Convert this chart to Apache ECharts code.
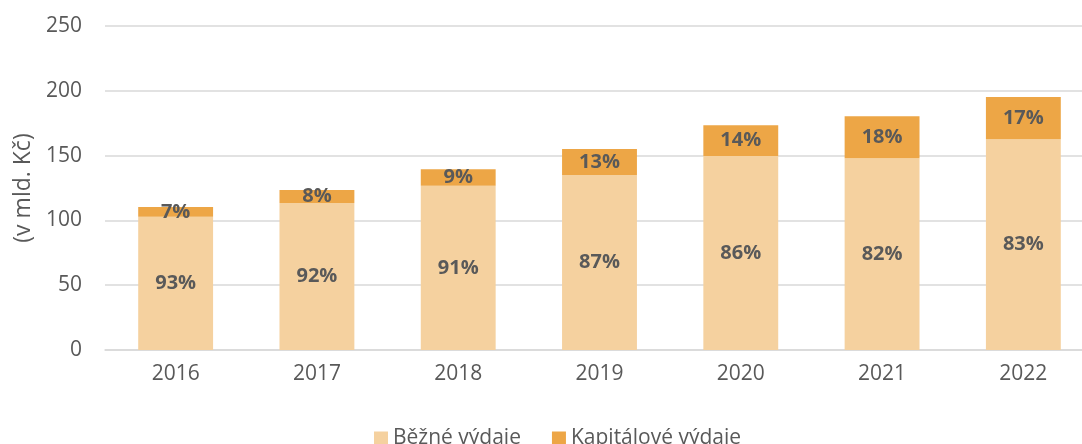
<!DOCTYPE html>
<html><head><meta charset="utf-8">
<script src="https://cdn.jsdelivr.net/npm/echarts@6/dist/echarts.min.js"></script>
<style>html,body{margin:0;padding:0;background:#fff}#c{width:1082px;height:444px}</style>
</head><body><div id="c"></div>
<script>
const categories = ['2016','2017','2018','2019','2020','2021','2022'];
const currentSpending = [102.9, 113.4, 126.8, 135.0, 149.7, 147.9, 162.6];
const capitalSpending = [7.4, 10.1, 12.6, 20.1, 23.7, 32.4, 32.6];
const currentLabels = ['93%','92%','91%','87%','86%','82%','83%'];
const capitalLabels = ['7%','8%','9%','13%','14%','18%','17%'];
const yTicks = [0, 50, 100, 150, 200, 250];

const font = 'Open Sans';
const chart = echarts.init(document.getElementById('c'), null, {renderer:'canvas'});
const labelStyle = (arr) => ({
  show: true, position: 'inside',
  formatter: p => arr[p.dataIndex],
  color: '#595959', fontFamily: font, fontWeight: 'bold', fontSize: 20
});
chart.setOption({
  animation: false,
  grid: {left: 105, right: -12, top: 26, bottom: 94, containLabel: false, outerBoundsMode: 'none'},
  legend: {
    data: ['Běžné výdaje','Kapitálové výdaje'],
    top: 423, left: 369, icon: 'rect', itemWidth: 14, itemHeight: 14, itemGap: 31,
    textStyle: {color: '#595959', fontFamily: font, fontSize: 21}
  },
  xAxis: {
    type: 'category', data: categories,
    axisLine: {lineStyle: {color: '#D9D9D9', width: 1.5}},
    axisTick: {show: false},
    axisLabel: {color: '#595959', fontFamily: font, fontSize: 21, margin: 14}
  },
  yAxis: {
    type: 'value', min: yTicks[0], max: yTicks[yTicks.length-1], interval: 50,
    name: '(v mld. Kč)', nameLocation: 'middle', nameGap: 70, nameRotate: 90,
    nameTextStyle: {color: '#595959', fontFamily: font, fontSize: 23},
    axisLine: {show: false}, axisTick: {show: false},
    splitLine: {lineStyle: {color: '#D9D9D9', width: 1.5}},
    axisLabel: {color: '#595959', fontFamily: font, fontSize: 21, margin: 23}
  },
  series: [
    {name: 'Běžné výdaje', type: 'bar', stack: 's', data: currentSpending,
     barWidth: '53%', itemStyle: {color: '#F5D19F'}, label: labelStyle(currentLabels)},
    {name: 'Kapitálové výdaje', type: 'bar', stack: 's', data: capitalSpending,
     barWidth: '53%', itemStyle: {color: '#EDA646'}, label: labelStyle(capitalLabels)}
  ]
});
</script></body></html>
